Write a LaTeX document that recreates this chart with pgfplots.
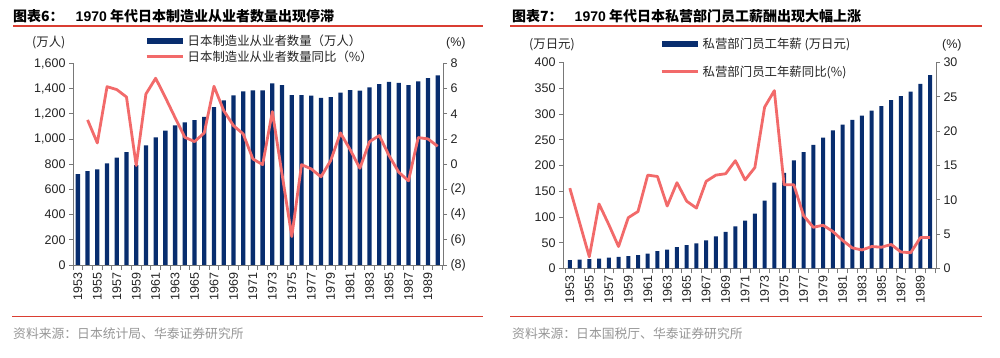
\documentclass[border=0pt]{standalone}
\usepackage{pgfplots}
\usepackage{pgfplotstable}
\pgfplotsset{compat=1.18}
\usepackage{fontspec}
\setmainfont{Liberation Sans}
\newfontfamily\cjk{Noto Sans CJK SC}
\definecolor{barblue}{RGB}{8,45,110}
\definecolor{lineRed}{RGB}{242,106,106}
\definecolor{titleRed}{RGB}{218,62,50}
\definecolor{axisgray}{RGB}{120,120,120}
\definecolor{srcgray}{RGB}{150,150,150}
\definecolor{txt}{RGB}{35,35,35}

\pgfplotstableread{
year emp pct
1953 722 nan
1954 746 3.52
1955 759 1.69
1956 807 6.16
1957 852 5.93
1958 897 5.34
1959 794 -0.1
1960 950 5.58
1961 1013 6.83
1962 1066 5.30
1963 1108 3.70
1964 1132 2.14
1965 1151 1.80
1966 1177 2.49
1967 1254 6.19
1968 1307 4.26
1969 1347 3.07
1970 1378 2.41
1971 1386 0.42
1972 1386 -0.03
1973 1442 4.18
1974 1429 -0.80
1975 1349 -5.74
1976 1349 -0.03
1977 1344 -0.37
1978 1328 -1.00
1979 1333 0.29
1980 1368 2.49
1981 1389 1.16
1982 1384 -0.32
1983 1410 1.80
1984 1437 2.28
1985 1455 0.69
1986 1447 -0.63
1987 1429 -1.32
1988 1458 2.12
1989 1484 2.01
1990 1505 1.43
}\empdata

\pgfplotstableread{
year wage pct
1953 16.1 11.7
1954 17.4 6.7
1955 18.1 1.7
1956 19.4 9.4
1957 21.3 6.4
1958 22.6 3.2
1959 23.9 7.4
1960 25.8 8.3
1961 29.0 13.6
1962 33.5 13.4
1963 36.8 9.1
1964 41.3 12.5
1965 45.2 9.8
1966 49.0 8.8
1967 54.8 12.7
1968 62.6 13.6
1969 71.0 13.8
1970 81.9 15.7
1971 92.9 12.9
1972 106.5 14.7
1973 131.6 23.5
1974 166.5 25.9
1975 185.8 12.2
1976 209.7 12.2
1977 225.8 7.7
1978 240.0 6.0
1979 254.2 6.3
1980 268.4 5.4
1981 279.4 4.1
1982 288.4 3.0
1983 296.8 2.7
1984 306.5 3.2
1985 315.5 3.1
1986 327.1 3.5
1987 334.8 2.4
1988 343.2 2.3
1989 358.7 4.5
1990 375.5 4.5
}\wagedata

\pgfplotsset{
  basestyle/.style={
    scale only axis, anchor=south west,
    tick align=outside, major tick length=4pt, minor tick length=5pt,
    axis line style={-, draw=axisgray, line width=0.8pt},
    tick style={draw=axisgray, line width=0.8pt},
    tick label style={font=\fontsize{12.5}{13}\selectfont, text=txt},
    /pgf/number format/assume math mode=true,
  },
  barstyle/.style={
    axis x line*=bottom, axis y line*=left,
    xtick={1953,1955,...,1989}, minor xtick={1952.5,1953.5,...,1990.5},
    major x tick style={draw=none},
    x tick label style={rotate=90, anchor=east, /pgf/number format/1000 sep={}},
    ybar,
    legend cell align=left,
    legend style={draw=none, fill=none, inner sep=0pt,
      font=\cjk\fontsize{12.4}{13}\selectfont, text=txt,
      nodes={inner ysep=1pt, inner xsep=3.5pt}},
  },
  linestyle/.style={
    axis y line*=right, axis x line=none, xtick=\empty,
  },
  barleg/.style={legend image code/.code={\fill[barblue] (0pt,-3pt) rectangle (36pt,3pt);}},
  lineleg/.style={legend image code/.code={\draw[lineRed, line width=3pt] (0pt,0pt) -- (36pt,0pt);}},
}

\begin{document}
\begin{tikzpicture}
\useasboundingbox (0pt,0pt) rectangle (1000pt,358pt);

% ---------- left panel ----------
\node[anchor=west, inner sep=0] at (13pt,342pt) {\cjk\bfseries\fontsize{14}{16}\selectfont 图表6：\hspace{12pt}{\rmfamily\bfseries 1970} 年代日本制造业从业者数量出现停滞};
\draw[titleRed, line width=1.2pt] (13pt,332pt) -- (483pt,332pt);
\draw[titleRed, line width=1.5pt] (12pt,41.5pt) -- (483pt,41.5pt);
\node[anchor=west, inner sep=0, text=srcgray] at (13pt,24pt) {\cjk\fontsize{12.8}{14}\selectfont 资料来源：日本统计局、华泰证券研究所};
\node[anchor=west, inner sep=0, text=txt] at (32pt,315pt) {\cjk\fontsize{12.4}{14}\selectfont (万人)};
\node[anchor=west, inner sep=0, text=txt] at (446pt,315pt) {\fontsize{12.5}{14}\selectfont (\%)};

\begin{axis}[basestyle, barstyle, at={(73pt,93pt)}, width=370pt, height=201.5pt,
  xmin=1952.5, xmax=1990.55, ymin=0, ymax=1600,
  ytick={0,200,...,1600}, bar width=4.3pt,
  legend style={at={(0.1946,1.1474)}, anchor=north west, row sep=1.6pt},
]
\addplot[fill=barblue, draw=none, barleg] table[x=year,y=emp]{\empdata};
\addlegendentry{日本制造业从业者数量（万人）}
\addlegendimage{lineleg}
\addlegendentry{日本制造业从业者数量同比（\%）}
\end{axis}
\begin{axis}[basestyle, linestyle, at={(73pt,93pt)}, width=370pt, height=201.5pt,
  xmin=1952.5, xmax=1990.55, ymin=-8, ymax=8,
  ytick={-8,-6,-4,-2,0,2,4,6,8}, yticklabels={(8),(6),(4),(2),0,2,4,6,8},
]
\addplot[lineRed, line width=2.8pt, line join=round] table[x=year,y=pct]{\empdata};
\end{axis}

% ---------- right panel ----------
\node[anchor=west, inner sep=0] at (512pt,342pt) {\cjk\bfseries\fontsize{14}{16}\selectfont 图表7：\hspace{12pt}{\rmfamily\bfseries 1970} 年代日本私营部门员工薪酬出现大幅上涨};
\draw[titleRed, line width=1.2pt] (510pt,332pt) -- (982pt,332pt);
\draw[titleRed, line width=1.5pt] (510pt,41.5pt) -- (982pt,41.5pt);
\node[anchor=west, inner sep=0, text=srcgray] at (512pt,24pt) {\cjk\fontsize{12.8}{14}\selectfont 资料来源：日本国税厅、华泰证券研究所};
\node[anchor=west, inner sep=0, text=txt] at (529pt,313pt) {\cjk\fontsize{12.4}{14}\selectfont (万日元)};
\node[anchor=west, inner sep=0, text=txt] at (942pt,313pt) {\fontsize{12.5}{14}\selectfont (\%)};

\begin{axis}[basestyle, barstyle, at={(563pt,89.5pt)}, width=373pt, height=206pt,
  xmin=1952.3, xmax=1990.6, ymin=0, ymax=400,
  ytick={0,50,...,400}, bar width=4pt,
  legend style={at={(0.26,1.1248)}, anchor=north west, row sep=13.6pt},
]
\addplot[fill=barblue, draw=none, barleg] table[x=year,y=wage]{\wagedata};
\addlegendentry{私营部门员工年薪 (万日元)}
\addlegendimage{lineleg}
\addlegendentry{私营部门员工年薪同比(\%)}
\end{axis}
\begin{axis}[basestyle, linestyle, at={(563pt,89.5pt)}, width=373pt, height=206pt,
  xmin=1952.3, xmax=1990.6, ymin=0, ymax=30,
  ytick={0,5,...,30},
]
\addplot[lineRed, line width=2.8pt, line join=round] table[x=year,y=pct]{\wagedata};
\end{axis}
\end{tikzpicture}
\end{document}
